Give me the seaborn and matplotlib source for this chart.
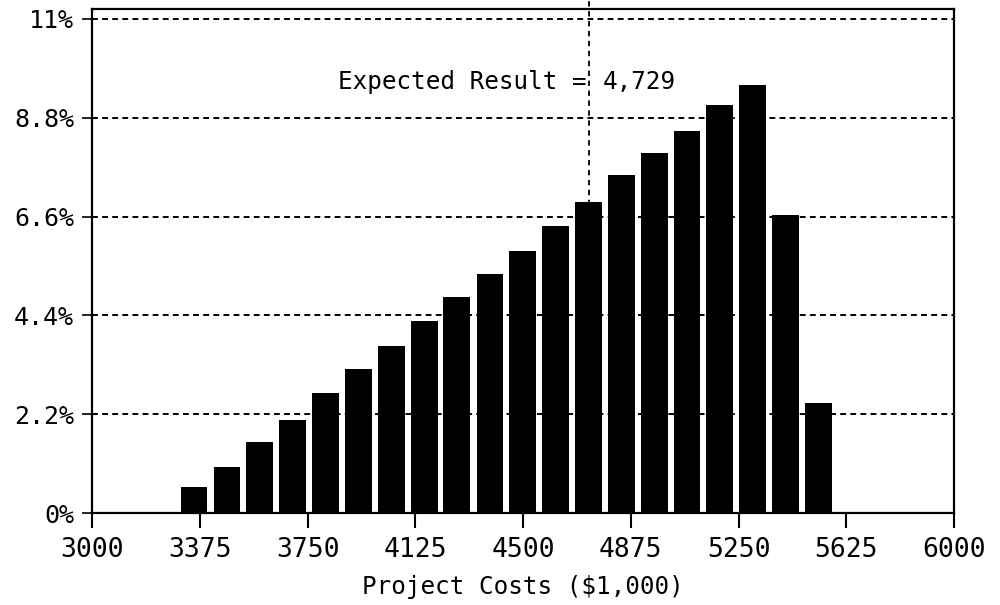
import matplotlib
matplotlib.use("Agg")
import matplotlib.pyplot as plt
import seaborn as sns
import pandas as pd

# bin midpoints of project cost ($1,000) and share of outcomes (%)
cost_bins = [3355, 3470, 3584, 3698, 3813, 3927, 4041, 4156, 4270, 4385,
             4499, 4613, 4728, 4842, 4957, 5071, 5185, 5300, 5414, 5528]
probability = [0.57, 1.03, 1.59, 2.07, 2.67, 3.20, 3.72, 4.28, 4.81, 5.33,
               5.84, 6.38, 6.93, 7.53, 8.02, 8.51, 9.08, 9.53, 6.64, 2.44]
x_ticks = [3000, 3375, 3750, 4125, 4500, 4875, 5250, 5625, 6000]
y_ticks = [0, 2.2, 4.4, 6.6, 8.8, 11]
y_tick_labels = ["0%", "2.2%", "4.4%", "6.6%", "8.8%", "11%"]
expected_result = 4729

df = pd.DataFrame({"cost": cost_bins, "pct": probability})

sns.set_style("ticks")
plt.rcParams["font.family"] = ["DejaVu Sans Mono", "DejaVu Sans"]
plt.rcParams["text.color"] = "black"
plt.rcParams["axes.labelcolor"] = "black"
plt.rcParams["xtick.color"] = "black"
plt.rcParams["ytick.color"] = "black"

fig = plt.figure(figsize=(10, 6.05), dpi=100)
ax = fig.add_axes([0.092, 0.152, 0.862, 0.833])

sns.barplot(data=df, x="cost", y="pct", native_scale=True, width=0.82,
            color="black", saturation=1, edgecolor="black", linewidth=0,
            zorder=3, ax=ax)

# dotted gridlines behind the bars
for yv in y_ticks[1:]:
    ax.axhline(yv, color="black", lw=1.4, ls=(0, (3, 2.2)), zorder=1)

# expected result marker
ax.axvline(expected_result, ymin=0, ymax=1.02, clip_on=False,
           color="black", lw=1.3, ls=(0, (3, 2.5)), zorder=2)
ax.text(expected_result - 8, 9.6, "Expected Result =", ha="right",
        va="center", fontsize=17.5, zorder=4)
ax.text(expected_result + 50, 9.6, f"{expected_result:,}", ha="left",
        va="center", fontsize=17.5, zorder=4)

ax.set_xlim(3000, 6000)
ax.set_ylim(0, 11.22)
ax.set_xticks(x_ticks)
ax.set_xticklabels([str(t) for t in x_ticks])
ax.set_yticks(y_ticks)
ax.set_yticklabels(y_tick_labels)

ax.tick_params(axis="x", length=11, width=1.5, labelsize=19, pad=6)
ax.tick_params(axis="y", length=7, width=1.2, labelsize=18, pad=6)

for side in ["left", "right", "top", "bottom"]:
    ax.spines[side].set_visible(True)
    ax.spines[side].set_linewidth(1.6)
    ax.spines[side].set_color("black")

ax.set_xlabel("Project Costs ($1,000)", fontsize=17.5, labelpad=9)
ax.set_ylabel("")

fig.savefig("out.png", dpi=100)
plt.close(fig)
